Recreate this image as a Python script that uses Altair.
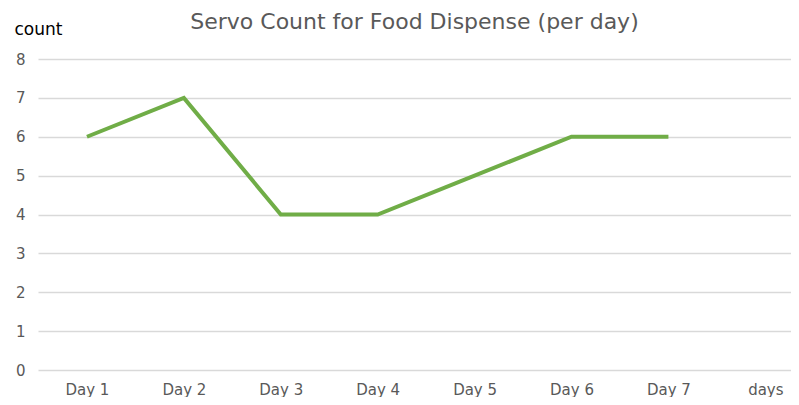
import altair as alt
import pandas as pd

days = ["Day 1", "Day 2", "Day 3", "Day 4", "Day 5", "Day 6", "Day 7"]
counts = [6, 7, 4, 4, 5, 6, 6]
x_domain = days + ["days"]
y_ticks = [0, 1, 2, 3, 4, 5, 6, 7, 8]

df = pd.DataFrame({"day": days, "count": counts})

FONT = "DejaVu Sans"

chart = alt.Chart(df).mark_line(color="#70ad47", strokeWidth=4, strokeJoin="miter").encode(
    x=alt.X("day:N", sort=x_domain,
            scale=alt.Scale(type="point", domain=x_domain, padding=0.385, align=0.656),
            axis=alt.Axis(title=None, labelAngle=0, ticks=False, domain=False,
                          grid=False, labelPadding=12, labelFontSize=15,
                          labelColor="#595959", labelFont=FONT)),
    y=alt.Y("count:Q", scale=alt.Scale(domain=[0, 8], nice=False),
            axis=alt.Axis(values=y_ticks, title="count", titleAngle=0,
                          titleAlign="left", titleBaseline="middle",
                          titleX=-24, titleY=-30, titleFontSize=17,
                          titleFontWeight="normal", titleColor="#000000",
                          titleFont=FONT, ticks=False, domain=False,
                          labelPadding=13, labelFontSize=15, labelColor="#595959",
                          labelFont=FONT, gridColor="#d9d9d9", gridWidth=1.5)),
).properties(
    width=753,
    height=311,
    title=alt.TitleParams("Servo Count for Food Dispense (per day)", fontSize=22,
                          font=FONT, fontWeight="normal", color="#595959",
                          anchor="middle", offset=-14),
    autosize=alt.AutoSizeParams(type="none"),
    padding={"left": 30, "top": 51, "right": 0, "bottom": 27},
).configure_view(stroke=None)

chart.save("out.html", embed_options={"renderer": "svg", "actions": False})
